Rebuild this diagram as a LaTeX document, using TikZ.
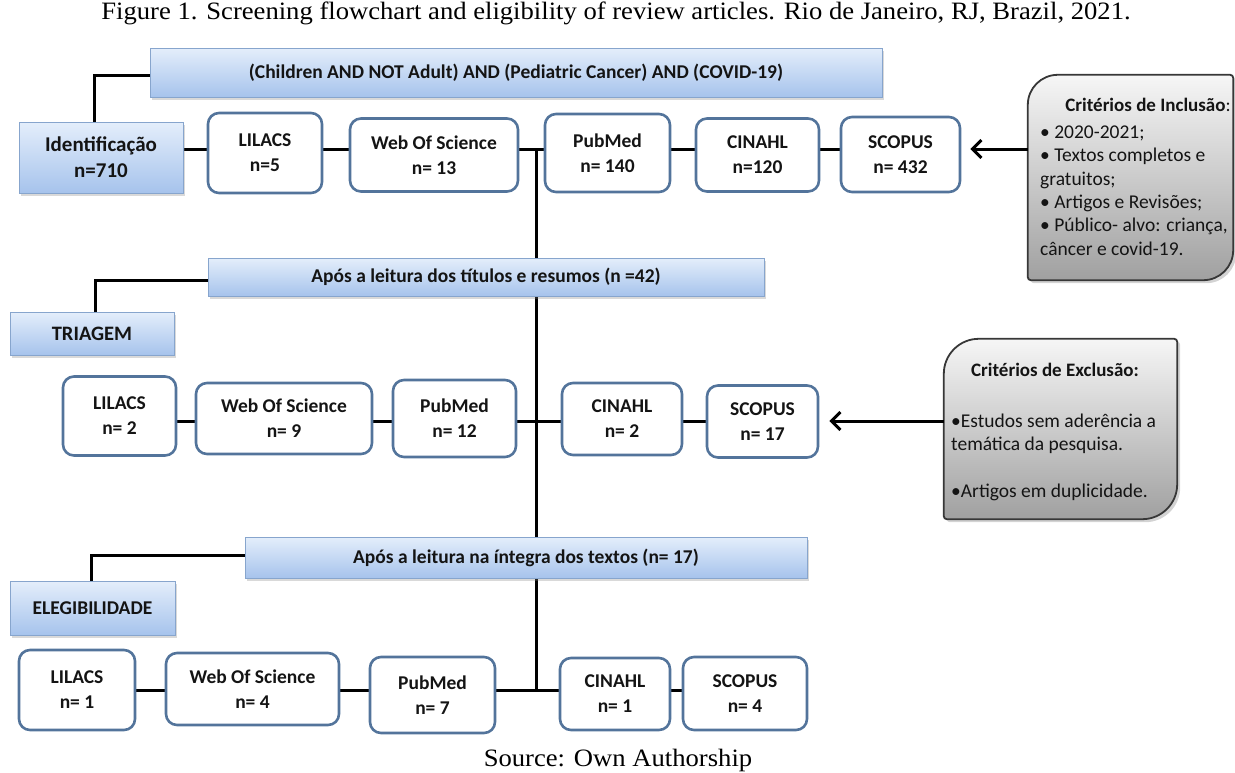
\documentclass[tikz,border=0pt]{standalone}
\usepackage{fontspec}
\newfontfamily\calfont{Carlito}
\newfontfamily\timesfont{Liberation Serif}[FakeStretch=1.065]
\usetikzlibrary{shadows,arrows.meta,calc}
\pgfdeclarelayer{bg}
\pgfsetlayers{bg,main}
\definecolor{wborder}{RGB}{83,116,155}
\definecolor{btop}{RGB}{228,238,251}
\definecolor{bbot}{RGB}{166,195,236}
\definecolor{bborder}{RGB}{135,165,205}
\definecolor{gtop}{RGB}{246,246,246}
\definecolor{gbot}{RGB}{160,160,160}
\definecolor{gborder}{RGB}{55,55,55}
\definecolor{txt}{RGB}{20,20,20}
\newcommand\grayshape[3]{%
  \path[gbox] ([yshift=-#2pt]#1.north west) arc[start angle=180,end angle=90,radius=#2pt]
    -- ([xshift=-#3pt]#1.north east) arc[start angle=90,end angle=0,radius=#3pt]
    -- ([yshift=#2pt]#1.south east) arc[start angle=0,end angle=-90,radius=#2pt]
    -- ([xshift=#3pt]#1.south west) arc[start angle=270,end angle=180,radius=#3pt]
    -- cycle;}
\begin{document}
\begin{tikzpicture}[x=1pt,y=1pt,
  sz/.style 2 args={minimum width=#1pt, minimum height=#2pt},
  boxtext/.style={align=center, text=txt, inner sep=0pt,
    font=\calfont\bfseries\fontsize{19.5}{25}\selectfont},
  wbox/.style={boxtext, draw=wborder, line width=2.6pt, rounded corners=11pt, fill=white},
  bbox/.style={boxtext, draw=bborder, line width=0.9pt, top color=btop, bottom color=bbot,
    drop shadow={shadow xshift=2pt, shadow yshift=-3pt, opacity=0.3}},
  gbox/.style={draw=gborder, line width=1.8pt, top color=gtop, bottom color=gbot,
    drop shadow={shadow xshift=3pt, shadow yshift=-3pt, opacity=0.35}},
  ghost/.style={draw=none, inner sep=0pt},
  gtext/.style={text=txt, inner sep=0pt, align=left,
    font=\calfont\fontsize{19.5}{23.3}\selectfont},
  conn/.style={line width=3pt, black},
  arr/.style={line width=3pt, black, -{Straight Barb[length=9pt,width=18pt,line width=3pt]}},
  captext/.style={inner sep=0pt, text=black, font=\timesfont\fontsize{25}{30}\selectfont}]
\useasboundingbox (0,0) rectangle (1235,-772);

% caption and source
\node[captext] (cap) at (616,-13) {Figure 1. Screening flowchart and eligibility of review articles. Rio de Janeiro, RJ, Brazil, 2021.};
\node[captext] (src) at (618,-760) {Source: Own Authorship};

% stage boxes
\node[bbox, sz={732}{49}] (search) at (516,-72.5) {(Children AND NOT Adult) AND (Pediatric Cancer) AND (COVID-19)};
\node[bbox, sz={164}{71}, font=\calfont\bfseries\fontsize{21}{26}\selectfont] (ident) at (101,-157.5) {Identificação\\n=710};
\node[bbox, sz={556}{38}] (apos1) at (486,-277) {Após a leitura dos títulos e resumos (n =42)};
\node[bbox, sz={164}{43}, font=\calfont\bfseries\fontsize{20.5}{25}\selectfont] (tri) at (92,-333.5) {TRIAGEM};
\node[bbox, sz={562}{41}] (apos2) at (526,-557.5) {Após a leitura na íntegra dos textos (n= 17)};
\node[bbox, sz={165}{54}, font=\calfont\bfseries\fontsize{19.5}{25}\selectfont] (eleg) at (92.5,-608) {ELEGIBILIDADE};

% row 1
\node[wbox, sz={114}{80}] (LIL1) at (265,-153) {LILACS\\n=5};
\node[wbox, sz={168}{73}] (WOS1) at (434,-155) {Web Of Science\\n= 13};
\node[wbox, sz={125}{78}] (PUB1) at (607.5,-153) {PubMed\\n= 140};
\node[wbox, sz={123}{73}] (CIN1) at (757.5,-155) {CINAHL\\n=120};
\node[wbox, sz={119}{75}] (SCO1) at (900.5,-154.5) {SCOPUS\\n= 432};

% row 2
\node[wbox, sz={113}{79}] (LIL2) at (119.5,-416) {LILACS\\n= 2};
\node[wbox, sz={176}{71}] (WOS2) at (284,-418.5) {Web Of Science\\n= 9};
\node[wbox, sz={123}{77}] (PUB2) at (454.5,-418.5) {PubMed\\n= 12};
\node[wbox, sz={120}{72}] (CIN2) at (622,-419) {CINAHL\\n= 2};
\node[wbox, sz={111}{72}] (SCO2) at (762.5,-421.5) {SCOPUS\\n= 17};

% row 3
\node[wbox, sz={116}{80}] (LIL3) at (77,-690) {LILACS\\n= 1};
\node[wbox, sz={173}{72}] (WOS3) at (252.5,-689) {Web Of Science\\n= 4};
\node[wbox, sz={125}{76}] (PUB3) at (432.5,-695) {PubMed\\n= 7};
\node[wbox, sz={110}{72}] (CIN3) at (615,-694) {CINAHL\\n= 1};
\node[wbox, sz={124}{73}] (SCO3) at (745,-693.5) {SCOPUS\\n= 4};

% criteria boxes
\node[ghost, sz={205}{205}] (incl) at (1130.5,-177.5) {};
\grayshape{incl}{30}{3}
\node[text=txt, inner sep=0pt, font=\calfont\fontsize{19}{23}\selectfont] (incltitle) at (1148,-105) {\textbf{Critérios de Inclusão}:};
\node[gtext, anchor=west] (incllist) at (1040,-190.5) {• 2020-2021;\\• Textos completos e\\gratuitos;\\• Artigos e Revisões;\\• Público- alvo: criança,\\câncer e covid-19.};

\node[ghost, sz={233}{180}] (excl) at (1060.5,-429) {};
\grayshape{excl}{35}{3}
\node[text=txt, inner sep=0pt, font=\calfont\bfseries\fontsize{19}{23}\selectfont] (excltitle) at (1055,-370) {Critérios de Exclusão:};
\node[gtext, anchor=west] (excllist) at (951,-457.5) {•Estudos sem aderência a\\temática da pesquisa.\\[23.3pt]•Artigos em duplicidade.};

% connectors
\coordinate (j1) at (536,-149);
\coordinate (j2) at (536,-421);
\coordinate (j3) at (536,-690);
\coordinate (c1) at (94,-75);
\coordinate (c2) at (95,-280);
\coordinate (c3) at (91,-555);
\begin{pgfonlayer}{bg}
  \draw[conn] (j1) -- (j3);
  \draw[conn] (ident.north -| c1) |- (search.west |- c1);
  \draw[conn] (tri.north -| c2) |- (apos1.west |- c2);
  \draw[conn] (eleg.north -| c3) |- (apos2.west |- c3);
  % row 1
  \draw[conn] (ident.east |- j1) -- (LIL1.west |- j1);
  \draw[conn] (LIL1.east |- j1) -- (WOS1.west |- j1);
  \draw[conn] (WOS1.east |- j1) -- (PUB1.west |- j1);
  \draw[conn] (PUB1.east |- j1) -- (CIN1.west |- j1);
  \draw[conn] (CIN1.east |- j1) -- (SCO1.west |- j1);
  % row 2
  \draw[conn] (LIL2.east |- j2) -- (WOS2.west |- j2);
  \draw[conn] (WOS2.east |- j2) -- (PUB2.west |- j2);
  \draw[conn] (PUB2.east |- j2) -- (CIN2.west |- j2);
  \draw[conn] (CIN2.east |- j2) -- (SCO2.west |- j2);
  % row 3
  \draw[conn] (LIL3.east |- j3) -- (WOS3.west |- j3);
  \draw[conn] (WOS3.east |- j3) -- (PUB3.west |- j3);
  \draw[conn] (PUB3.east |- j3) -- (CIN3.west |- j3);
  \draw[conn] (CIN3.east |- j3) -- (SCO3.west |- j3);
\end{pgfonlayer}
\draw[arr, shorten >=9pt] (incl.west |- j1) -- (SCO1.east |- j1);
\draw[arr, shorten >=10pt] (excl.west |- j2) -- (SCO2.east |- j2);
\end{tikzpicture}
\end{document}
